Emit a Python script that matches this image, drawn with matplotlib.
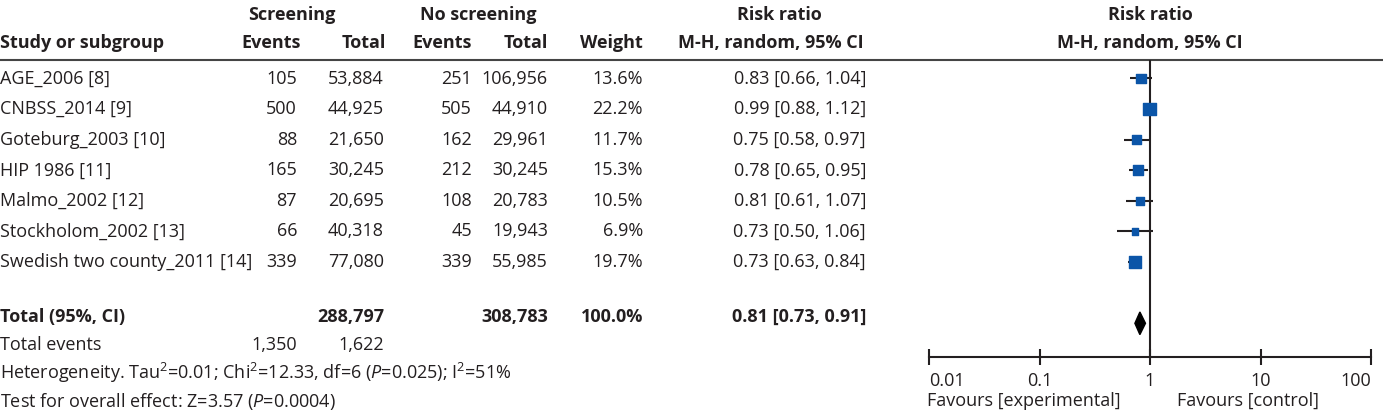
import numpy as np
import matplotlib.pyplot as plt

plt.rcParams['font.family'] = ['Open Sans', 'DejaVu Sans']
plt.rcParams['mathtext.fontset'] = 'custom'
plt.rcParams['mathtext.rm'] = 'Open Sans'
plt.rcParams['mathtext.it'] = 'Open Sans:italic'
plt.rcParams['mathtext.bf'] = 'Open Sans:bold'

studies = ['AGE_2006 [8]', 'CNBSS_2014 [9]', 'Goteburg_2003 [10]', 'HIP 1986 [11]',
           'Malmo_2002 [12]', 'Stockholom_2002 [13]', 'Swedish two county_2011 [14]']
scr_events = [105, 500, 88, 165, 87, 66, 339]
scr_total = [53884, 44925, 21650, 30245, 20695, 40318, 77080]
ctl_events = [251, 505, 162, 212, 108, 45, 339]
ctl_total = [106956, 44910, 29961, 30245, 20783, 19943, 55985]
weight = [13.6, 22.2, 11.7, 15.3, 10.5, 6.9, 19.7]
rr = [0.83, 0.99, 0.75, 0.78, 0.81, 0.73, 0.73]
lo = [0.66, 0.88, 0.58, 0.65, 0.61, 0.50, 0.63]
hi = [1.04, 1.12, 0.97, 0.95, 1.07, 1.06, 0.84]
tot_scr, tot_ctl, tot_weight = 288797, 308783, 100.0
tot_ev_scr, tot_ev_ctl = 1350, 1622
pooled, pooled_lo, pooled_hi = 0.81, 0.73, 0.91
xticks = [0.01, 0.1, 1, 10, 100]
xticklabels = ['0.01', '0.1', '1', '10', '100']

W, H = 1383, 420
y0, dy = 78.5, 30.6          # pixel y of first study row, row spacing
def row(p):
    return (p - y0) / dy

txt = '#231f20'
fs = 13.0
blue = '#0b55a8'

fig = plt.figure(figsize=(W / 100, H / 100), dpi=100)

# table part, x in pixels, y in rows
ax = fig.add_axes([0, 0, 1, 1])
ax.set_xlim(0, W)
ax.set_ylim(row(H), row(0))
ax.axis('off')

def t(x, y, s, ha='right', bold=False, **kw):
    ax.text(x, y, s, ha=ha, va='center', fontsize=fs, color=txt,
            fontweight='bold' if bold else 'normal', **kw)

xl = 0
c_se, c_st, c_ce, c_ct, c_w, c_ci = 297, 384, 472, 548, 643, 866

t(292, row(15), 'Screening', ha='center', bold=True)
t(478, row(15), 'No screening', ha='center', bold=True)
t(779, row(15), 'Risk ratio', ha='center', bold=True)
t(1150, row(15), 'Risk ratio', ha='center', bold=True)
hy = row(43)
t(xl, hy, 'Study or subgroup', ha='left', bold=True)
t(c_se + 4, hy, 'Events', bold=True)
t(c_st + 2, hy, 'Total', bold=True)
t(c_ce, hy, 'Events', bold=True)
t(c_ct, hy, 'Total', bold=True)
t(c_w, hy, 'Weight', bold=True)
t(771, hy, 'M-H, random, 95% CI', ha='center', bold=True)
t(1150, hy, 'M-H, random, 95% CI', ha='center', bold=True)
ax.axhline(row(60), color='#444444', lw=1.5)

for i, name in enumerate(studies):
    t(xl, i, name, ha='left')
    t(c_se, i, f'{scr_events[i]}')
    t(c_st, i, f'{scr_total[i]:,}')
    t(c_ce, i, f'{ctl_events[i]}')
    t(c_ct, i, f'{ctl_total[i]:,}')
    t(c_w, i, f'{weight[i]:.1f}%')
    t(c_ci, i, f'{rr[i]:.2f} [{lo[i]:.2f}, {hi[i]:.2f}]')

ty = row(317)
t(xl, ty, 'Total (95%, CI)', ha='left', bold=True)
t(c_st, ty, f'{tot_scr:,}', bold=True)
t(c_ct, ty, f'{tot_ctl:,}', bold=True)
t(c_w, ty, f'{tot_weight:.1f}%', bold=True)
t(c_ci, ty, f'{pooled:.2f} [{pooled_lo:.2f}, {pooled_hi:.2f}]', bold=True)
t(xl, row(345), 'Total events', ha='left')
t(c_se, row(345), f'{tot_ev_scr:,}')
t(c_st, row(345), f'{tot_ev_ctl:,}')
t(xl, row(373), 'Heterogeneity. Tau$^2$=0.01; Chi$^2$=12.33, df=6 ($P$=0.025); I$^2$=51%', ha='left')
t(xl, row(402), 'Test for overall effect: Z=3.57 ($P$=0.0004)', ha='left')
t(1024, row(401), 'Favours [experimental]', ha='center')
t(1248, row(401), 'Favours [control]', ha='center')

# forest plot
fx0, fx1, fy0, fy1 = 929, 1371, 60, 357
axf = fig.add_axes([fx0 / W, 1 - fy1 / H, (fx1 - fx0) / W, (fy1 - fy0) / H])
axf.set_xscale('log')
axf.set_xlim(0.01, 100)
axf.set_ylim(row(fy1), row(fy0))
axf.patch.set_visible(False)
for s in ['top', 'left', 'right']:
    axf.spines[s].set_visible(False)
axf.spines['bottom'].set_linewidth(1.5)
axf.spines['bottom'].set_color(txt)
axf.set_yticks([])
axf.set_xticks(xticks)
axf.set_xticklabels(xticklabels)
axf.minorticks_off()
axf.tick_params(axis='x', direction='inout', length=11, width=1.5, color=txt,
                labelsize=fs, labelcolor=txt, pad=5)
labs = axf.get_xticklabels()
labs[0].set_ha('left')
labs[-1].set_ha('right')

rows = np.arange(len(studies))
axf.axvline(1, color=txt, lw=1.5)
axf.hlines(rows, lo, hi, color=txt, lw=1.5)
axf.scatter(rr, rows, s=[3.4 * w for w in weight], marker='s', color=blue, zorder=3)
dh = 0.37
axf.fill([pooled_lo, pooled, pooled_hi, pooled], [8, 8 - dh, 8, 8 + dh], color='black', zorder=3)

fig.savefig('out.png', dpi=100)
